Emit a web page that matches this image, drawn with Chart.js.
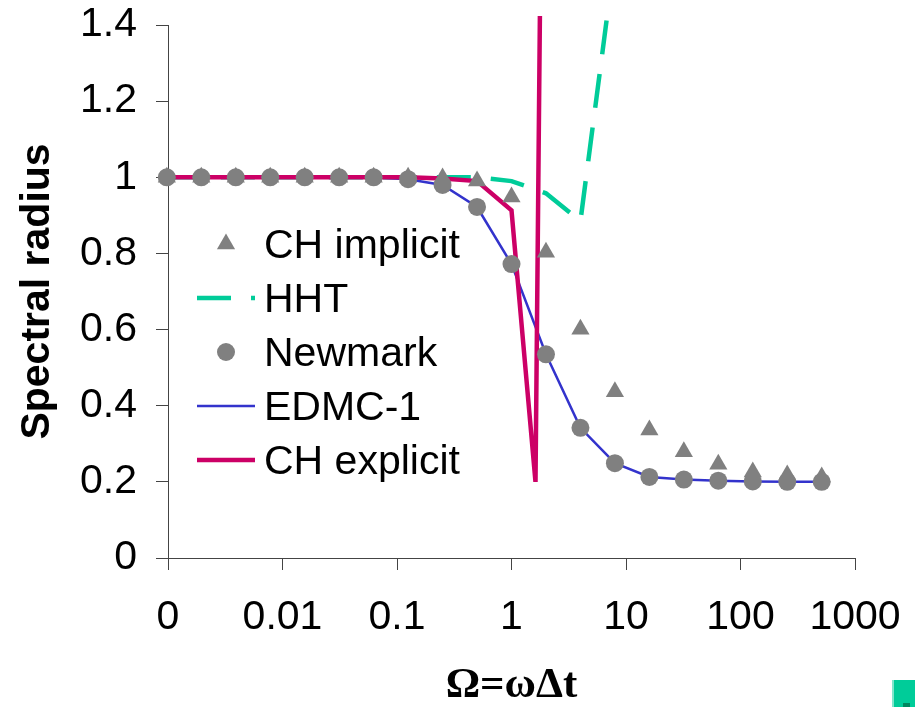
<!DOCTYPE html>
<html>
<head>
<meta charset="utf-8">
<title>Spectral radius</title>
<script src="https://cdn.jsdelivr.net/npm/chart.js@4"></script>
<style>
  body { margin: 0; background: #fff; }
  #wrap { position: relative; width: 915px; height: 707px; }
  #btn { position: absolute; left: 892px; top: 680px; width: 21px; height: 27px;
         background: #00cc99; border-left: 2px solid #7fe6cc; }
  #btn span { position: absolute; left: 9px; bottom: 0; width: 7px; height: 4px; background: #00875f; }
</style>
</head>
<body>
<div id="wrap">
  <canvas id="myChart" width="915" height="707"></canvas>
  <div id="btn"><span></span></div>
</div>
<script>
// Omega = omega * dt, sampled at powers of two
var omega = [0.0009765625, 0.001953125, 0.00390625, 0.0078125, 0.015625, 0.03125, 0.0625,
             0.125, 0.25, 0.5, 1, 2, 4, 8, 16, 32, 64, 128, 256, 512];

var chImplicit = [1, 1, 1, 1, 1, 1, 1, 1, 0.998, 0.99, 0.948, 0.803, 0.601, 0.437,
                  0.336, 0.279, 0.246, 0.226, 0.218, 0.213];
var newmark = [1, 1, 1, 1, 1, 1, 1, 0.995, 0.98, 0.922, 0.772, 0.535, 0.342, 0.249,
               0.213, 0.206, 0.203, 0.201, 0.2, 0.2];
var edmc1 = [1, 1, 1, 1, 1, 1, 1, 0.995, 0.98, 0.922, 0.772, 0.535, 0.342, 0.249,
             0.213, 0.206, 0.203, 0.201, 0.2, 0.2];

// HHT blows up past Omega = 4
var hhtOmega = [0.0009765625, 0.001953125, 0.00390625, 0.0078125, 0.015625, 0.03125, 0.0625,
                0.125, 0.25, 0.5, 1, 2, 4, 8];
var hht = [1, 1, 1, 1, 1, 1, 1, 1, 1, 1, 0.99, 0.958, 0.885, 1.58];

// explicit scheme goes unstable just after Omega = 1.6
var chExplicitOmega = [0.0009765625, 0.001953125, 0.00390625, 0.0078125, 0.015625, 0.03125, 0.0625,
                       0.125, 0.25, 0.5, 1, 1.62, 1.78];
var chExplicit = [1, 1, 1, 1, 1, 1, 1, 1, 0.997, 0.99, 0.913, 0.2, 1.5];

var xTicks = [0.001, 0.01, 0.1, 1, 10, 100, 1000];
var legendOrder = ['CH implicit', 'HHT', 'Newmark', 'EDMC-1', 'CH explicit'];

function pts(xs, ys) {
  return ys.map(function (y, i) { return {x: xs[i], y: y}; });
}

var FONT = "'Liberation Sans', Arial, sans-serif";
var AXIS = '#444';
var GREY = '#808080';
var clipBox = {left: 20, right: 20, top: 9, bottom: 20};

// legend sits inside the plot, drawn by hand so the samples look like the series
var insideLegend = {
  id: 'insideLegend',
  afterDraw: function (chart) {
    var c = chart.ctx;
    c.save();
    legendOrder.forEach(function (name, i) {
      var ds = chart.data.datasets.find(function (d) { return d.label === name; });
      var base = 258 + i * 54;
      var cy = base - 14;
      if (ds.showLine === false) {
        c.fillStyle = ds.pointBackgroundColor;
        c.beginPath();
        if (ds.pointStyle === 'triangle') {
          var r = ds.pointRadius;
          c.moveTo(226, cy - r);
          c.lineTo(226 + r * 0.866, cy + r / 2);
          c.lineTo(226 - r * 0.866, cy + r / 2);
          c.closePath();
        } else {
          c.arc(226, cy, ds.pointRadius, 0, Math.PI * 2);
        }
        c.fill();
      } else {
        c.strokeStyle = ds.borderColor;
        c.lineWidth = ds.borderWidth;
        c.setLineDash(ds.borderDash || []);
        c.beginPath();
        c.moveTo(197, cy);
        c.lineTo(255, cy);
        c.stroke();
        c.setLineDash([]);
      }
      c.fillStyle = '#000';
      c.font = '41px ' + FONT;
      c.textBaseline = 'alphabetic';
      c.fillText(name, 264, base);
    });
    c.restore();
  }
};

// keep the plot box fixed: no extra room for overhanging tick labels
function noOverhang(scale) {
  scale.paddingTop = 0;
  scale.paddingBottom = 0;
  scale.paddingLeft = 0;
  scale.paddingRight = 0;
}

var ctx = document.getElementById('myChart').getContext('2d');
var myChart = new Chart(ctx, {
  type: 'line',
  data: {
    datasets: [{
      label: 'Newmark',
      data: pts(omega, newmark),
      showLine: false,
      pointStyle: 'circle',
      pointRadius: 9,
      pointBackgroundColor: GREY,
      pointBorderWidth: 0,
      clip: clipBox
    }, {
      label: 'CH implicit',
      data: pts(omega, chImplicit),
      showLine: false,
      pointStyle: 'triangle',
      pointRadius: 10.5,
      pointBackgroundColor: GREY,
      pointBorderWidth: 0,
      clip: clipBox
    }, {
      label: 'CH explicit',
      data: pts(chExplicitOmega, chExplicit),
      borderColor: '#cc0066',
      borderWidth: 4.5,
      pointRadius: 0,
      tension: 0,
      clip: clipBox
    }, {
      label: 'EDMC-1',
      data: pts(omega, edmc1),
      borderColor: '#3333cc',
      borderWidth: 2.5,
      pointRadius: 0,
      tension: 0,
      clip: clipBox
    }, {
      label: 'HHT',
      data: pts(hhtOmega, hht),
      borderColor: '#00cc99',
      borderWidth: 4.5,
      borderDash: [34, 20],
      pointRadius: 0,
      tension: 0,
      clip: clipBox
    }]
  },
  options: {
    responsive: false,
    animation: false,
    layout: {padding: {top: 25, right: 60, left: 0, bottom: 0}},
    plugins: {
      legend: {display: false},
      tooltip: {enabled: false}
    },
    scales: {
      x: {
        type: 'logarithmic',
        min: 0.001,
        max: 1000,
        afterBuildTicks: function (scale) {
          scale.ticks = xTicks.map(function (v) { return {value: v}; });
        },
        afterFit: function (scale) { scale.height = 149; noOverhang(scale); },
        grid: {drawOnChartArea: false, tickLength: 12, color: AXIS, lineWidth: 1},
        border: {display: true, color: AXIS, width: 1},
        ticks: {
          autoSkip: false,
          maxRotation: 0,
          padding: 23,
          color: '#000',
          font: {family: FONT, size: 41, lineHeight: 1.2},
          callback: function (v) { return v === 0.001 ? '0' : String(v); }
        },
        title: {
          display: true,
          text: 'Ω=ωΔt',
          color: '#000',
          padding: {top: 0, bottom: 0},
          font: {family: "'Liberation Serif', 'Times New Roman', serif", size: 43, weight: 'bold', lineHeight: 1}
        }
      },
      y: {
        min: 0,
        max: 1.4,
        afterFit: function (scale) { scale.width = 168; noOverhang(scale); },
        grid: {drawOnChartArea: false, tickLength: 12, color: AXIS, lineWidth: 1},
        border: {display: true, color: AXIS, width: 1},
        ticks: {
          stepSize: 0.2,
          padding: 19,
          color: '#000',
          font: {family: FONT, size: 41, lineHeight: 1.2},
          callback: function (v) { return String(Number(v.toFixed(1))); }
        },
        title: {
          display: true,
          text: 'Spectral radius',
          color: '#000',
          padding: {top: 13, bottom: 0},
          font: {family: FONT, size: 41, weight: 'bold', lineHeight: 1.2}
        }
      }
    }
  },
  plugins: [insideLegend]
});
</script>
</body>
</html>
